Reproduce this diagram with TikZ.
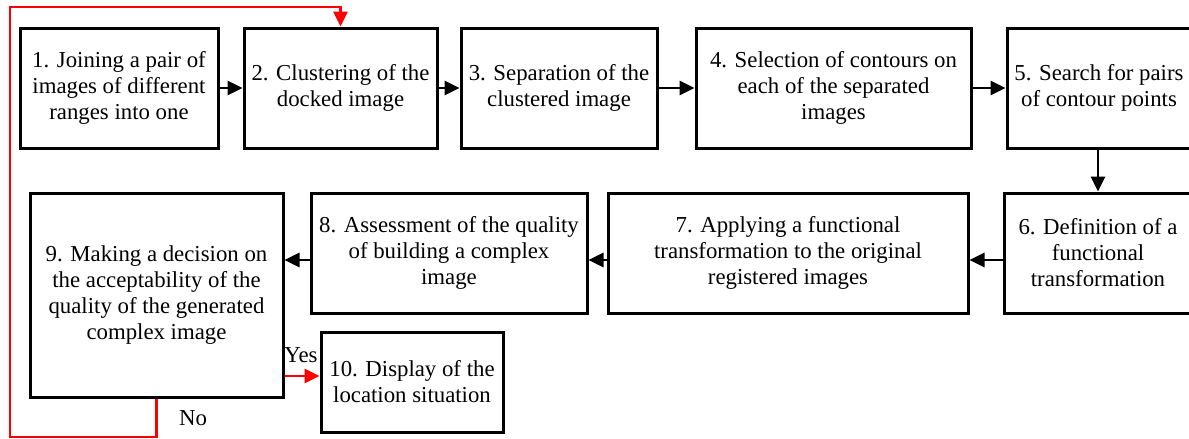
\documentclass[tikz,border=0pt]{standalone}
\usepackage{fontspec}
\setmainfont{Liberation Serif}
\usetikzlibrary{arrows.meta,positioning}

\tikzset{
  stage/.style={draw, line width=3pt, align=center, inner sep=0pt,
    font=\fontsize{22.8}{26}\selectfont},
  flow/.style={-{Triangle[length=15pt,width=14pt]}, line width=2.8pt},
  back/.style={flow, red},
  tag/.style={inner sep=0pt, font=\fontsize{22.8}{26}\selectfont},
}

\begin{document}
\begin{tikzpicture}[x=1pt, y=-1pt]
    \useasboundingbox (0,0) rectangle (1189,439);
    \node[stage, minimum width=198, minimum height=120] (n1) at (119,88) {1. Joining a pair of\\images of different\\ranges into one};
    \node[stage, minimum width=193, minimum height=120] (n2) at (340.5,88) {2. Clustering of the\\docked image};
    \node[stage, minimum width=196, minimum height=120] (n3) at (559,88) {3. Separation of the\\clustered image};
    \node[stage, minimum width=275, minimum height=120] (n4) at (833.5,88) {4. Selection of contours on\\each of the separated\\images};
    \node[stage, minimum width=184, minimum height=120] (n5) at (1099,88) {5. Search for pairs\\of contour points};
    \node[stage, minimum width=188, minimum height=120] (n6) at (1098,253) {6. Definition of a\\functional\\transformation};
    \node[stage, minimum width=360, minimum height=120] (n7) at (788,253) {7. Applying a functional\\transformation to the original\\registered images};
    \node[stage, minimum width=276, minimum height=120] (n8) at (449,253) {8. Assessment of the quality\\of building a complex\\image};
    \node[stage, minimum width=253, minimum height=204] (n9) at (156.5,295) {9. Making a decision on\\the acceptability of the\\quality of the generated\\complex image};
    \node[stage, minimum width=182, minimum height=100] (n10) at (412,382) {10. Display of the\\location situation};
    \coordinate (c1) at (10,437);
    \coordinate (c2) at (10,7);
    \coordinate (r8) at (0,260);
    \coordinate (r10) at (0,376);
    \draw[flow] (n1) -- (n2);
    \draw[flow] (n2) -- (n3);
    \draw[flow] (n3) -- (n4);
    \draw[flow] (n4) -- (n5);
    \draw[flow] (n5.south -| n6.north) -- (n6.north);
    \draw[flow] (n6.west |- r8) -- (n7.east |- r8);
    \draw[flow] (n7.west |- r8) -- (n8.east |- r8);
    \draw[flow] (n8.west |- r8) -- (n9.east |- r8);
    \draw[back] (n9.east |- r10) -- (n10.west |- r10);
    \node[tag] (yes) at (301,355) {Yes};
    \draw[back] (n9.south) |- (c1) -- (c2) -| (n2.north);
    \node[tag] (no) at (193,418) {No};
\end{tikzpicture}
\end{document}
